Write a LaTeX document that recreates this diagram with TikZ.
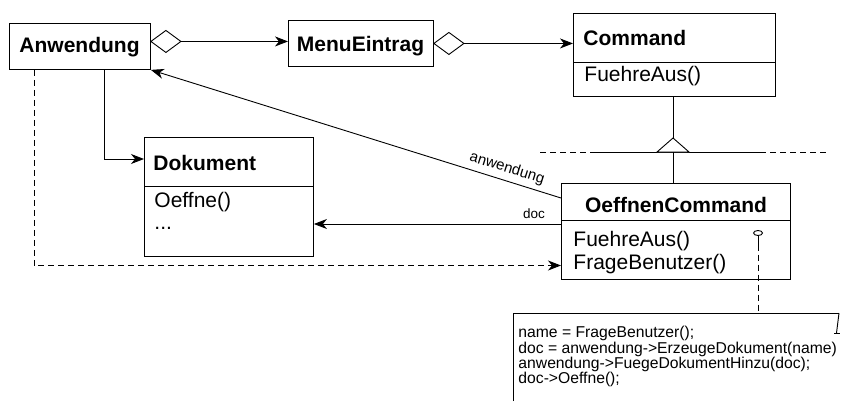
\documentclass[tikz,border=0pt]{standalone}
\usepackage{fontspec}
\setmainfont{Liberation Sans}
\usetikzlibrary{arrows.meta,calc}
\begin{document}
\begin{tikzpicture}[x=1pt,y=-1pt, line width=0.9pt,
  box/.style={draw, rectangle, inner sep=0pt, anchor=north west},
  ttl/.style={inner sep=0pt, font=\fontsize{21}{25}\selectfont\bfseries},
  mth/.style={inner sep=0pt, anchor=base west, font=\fontsize{21}{25}\selectfont},
  lbl/.style={inner sep=0pt, font=\fontsize{13.5}{15}\selectfont},
  arr/.style={-{Stealth[length=13pt,width=10pt,inset=4pt]}},
  notetext/.style={inner sep=0pt, anchor=north west, align=left,
    font=\fontsize{15.7}{15.3}\selectfont}]
\useasboundingbox (0,0) rectangle (842,401);

% Anwendung
\node[box, minimum width=141pt, minimum height=46pt] (anw) at (9,23) {};
\node[ttl, anchor=base] (anwT) at (79.5,53) {Anwendung};

% MenuEintrag
\node[box, minimum width=145pt, minimum height=46pt] (menu) at (288,20) {};
\node[ttl, anchor=base] (menuT) at (360.5,52) {MenuEintrag};

% Command
\node[box, minimum width=202pt, minimum height=83pt] (cmd) at (573,13) {};
\draw ($(cmd.north west)+(0,49)$) coordinate (cmdS) -- (cmdS -| cmd.east);
\node[ttl, anchor=base west] (cmdT) at (583,46) {Command};
\node[mth] (cmdM) at (584,82) {FuehreAus()};

% Dokument
\node[box, minimum width=169pt, minimum height=119pt] (dok) at (144,137) {};
\draw ($(dok.north west)+(0,49)$) coordinate (dokS) -- (dokS -| dok.east);
\node[ttl, anchor=base west] (dokT) at (153,170) {Dokument};
\node[mth] (dokM1) at (154,207.3) {Oeffne()};
\node[mth] (dokM2) at (154,229) {...};

% OeffnenCommand
\node[box, minimum width=229pt, minimum height=96pt] (oc) at (561,183) {};
\draw ($(oc.north west)+(0,37)$) coordinate (ocS) -- (ocS -| oc.east);
\node[ttl, anchor=base] (ocT) at (676,212.7) {OeffnenCommand};
\node[mth] (ocM1) at (573,246.7) {FuehreAus()};
\node[mth] (ocM2) at (573,269) {FrageBenutzer()};

% aggregation diamonds
\coordinate (d1a) at ($(anw.east)+(0,-5)$);
\coordinate (d1b) at ($(d1a)+(30,0)$);
\draw[fill=white] (d1a) -- ++(15,-11) -- (d1b) -- ++(-15,11) -- cycle;
\draw[arr] (d1b) -- (d1b -| menu.west);

\coordinate (d2a) at (menu.east);
\coordinate (d2b) at ($(d2a)+(30,0)$);
\draw[fill=white] (d2a) -- ++(15,-11) -- (d2b) -- ++(-15,11) -- cycle;
\draw[arr] (d2b) -- (d2b -| cmd.west);

% generalization
\coordinate (apex) at (673,138);
\coordinate (base) at (673,152);
\draw[dashed, dash pattern=on 6pt off 4pt] (540,152) -- (828,152);
\draw (595,152) -- (763,152);
\draw (cmd.south -| apex) -- (apex);
\draw[fill=white] (apex) -- ($(base)+(-16,0)$) -- ($(base)+(16,0)$) -- cycle;
\draw (base) -- (base |- oc.north);

% Anwendung -> Dokument
\draw[arr] (anw.south -| 104,0) |- (dok.west |- 0,159);

% Anwendung dashed -> OeffnenCommand
\draw[arr, dashed, dash pattern=on 6pt off 4pt] (anw.south -| 34,0) |- (oc.west |- 0,265.5);

% anwendung association
\coordinate (ocA) at ($(oc.north west)+(0,15)$);
\draw[arr] (ocA) -- (anw.south east);
\node[lbl, rotate=-17.5, font=\fontsize{15}{17}\selectfont] (lblA) at (507,168.5) {anwendung};

% doc association
\draw[arr] (oc.west |- 0,224) -- (dok.east |- 0,224);
\node[lbl, anchor=base] (lblD) at (534,218.3) {doc};

% lollipop and note link
\draw (758,233) ellipse (4.5 and 2.5);
\coordinate (lolB) at (758,235.5);
\coordinate (noteTop) at (758,313);
\draw (lolB) -- ++(0,9) coordinate (lolS);
\draw[dashed, dash pattern=on 6pt off 4pt] (lolS) -- (noteTop);

% note
\draw (513,401) -- (513,313) -- (839,313);
\draw (839,313) -- (836.5,333);
\draw (834,333) -- (840,333);
\node[notetext] (note) at (518,326) {name = FrageBenutzer();\\doc = anwendung->ErzeugeDokument(name)\\anwendung->FuegeDokumentHinzu(doc);\\doc->Oeffne();};
\end{tikzpicture}
\end{document}
